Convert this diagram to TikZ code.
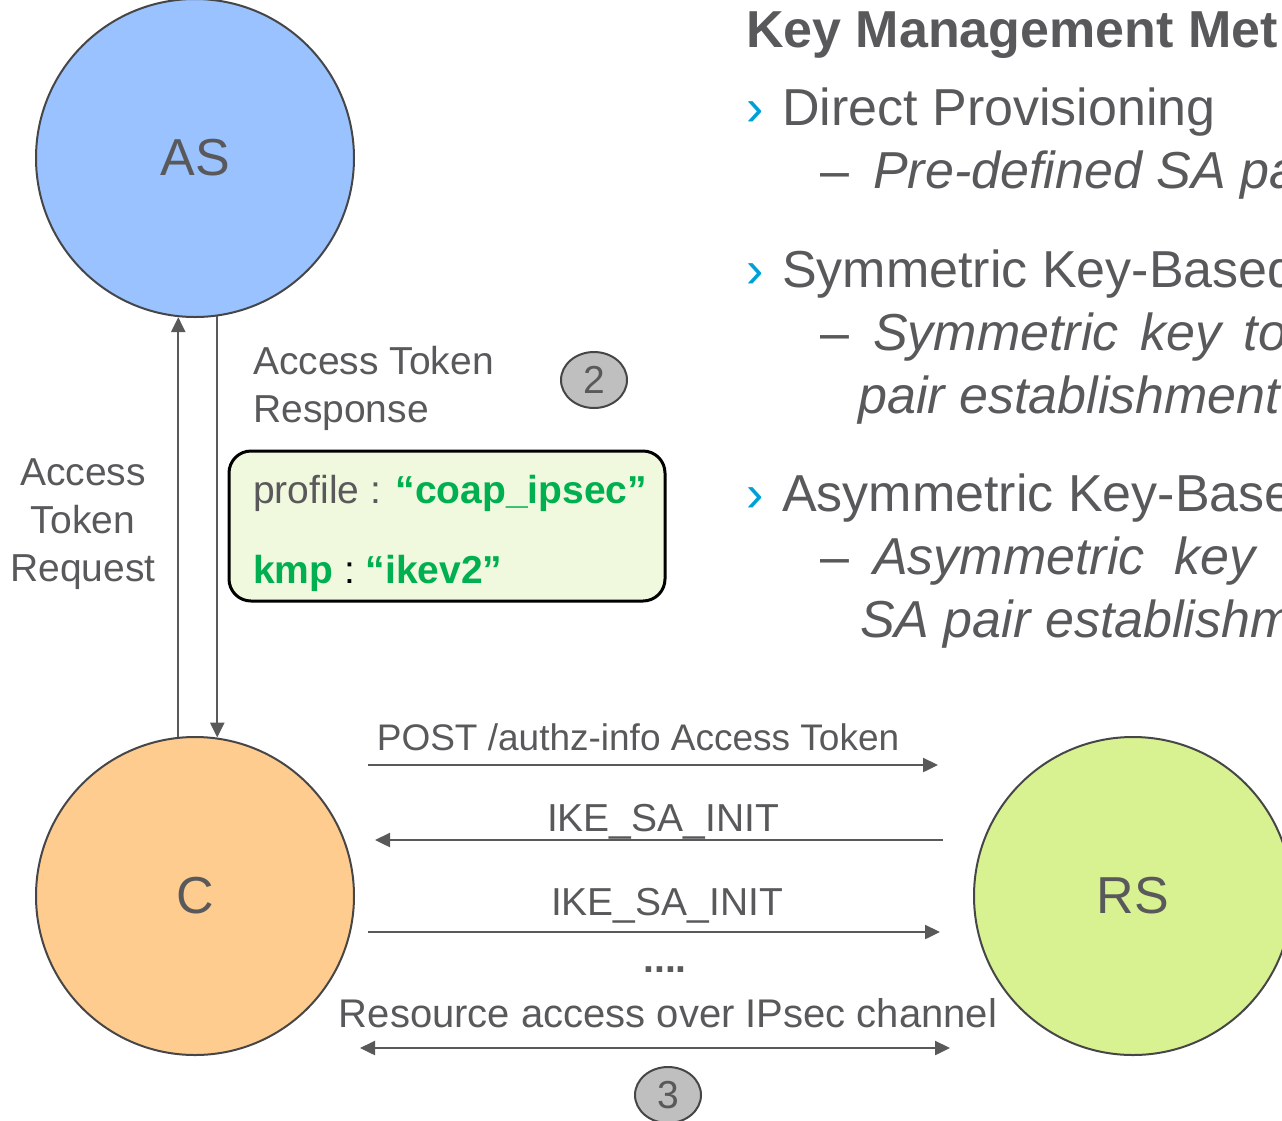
\documentclass[tikz,border=0pt]{standalone}
\usepackage{fontspec}
\setmainfont{Liberation Sans}
\usetikzlibrary{arrows.meta,shapes.geometric}

\definecolor{txtgray}{RGB}{89,89,91}
\definecolor{edgegray}{RGB}{70,70,72}
\definecolor{arrowgray}{RGB}{89,89,89}
\definecolor{asblue}{RGB}{153,194,255}
\definecolor{corange}{RGB}{255,204,143}
\definecolor{rsgreen}{RGB}{217,242,145}
\definecolor{boxgreen}{RGB}{240,248,222}
\definecolor{kmpgreen}{RGB}{0,176,80}
\definecolor{numgray}{RGB}{191,191,191}
\definecolor{bulletcyan}{RGB}{0,160,214}

\begin{document}
\begin{tikzpicture}[x=1pt,y=-1pt,
  party/.style={circle,draw=edgegray,line width=2pt,minimum size=318pt,inner sep=0pt,
    text=txtgray,font=\fontsize{52}{60}\selectfont},
  flow/.style={draw=arrowgray,line width=2.4pt,-{Triangle[length=15pt,width=14pt]}},
  lbl/.style={text=txtgray,inner sep=0pt,font=\fontsize{39}{48}\selectfont},
  stepno/.style={ellipse,draw=edgegray,line width=2pt,fill=numgray,minimum width=66pt,
    minimum height=56pt,inner sep=0pt,text=txtgray,font=\fontsize{39}{48}\selectfont},
  bigtxt/.style={anchor=base west,inner sep=0pt,text=txtgray,font=\fontsize{52}{60}\selectfont},
  subtxt/.style={bigtxt,font=\itshape\fontsize{52}{60}\selectfont},
  chev/.style={anchor=base west,inner sep=0pt,text=bulletcyan,font=\fontsize{52}{60}\selectfont}]
\useasboundingbox (0,0) rectangle (1282,1120);
\clip (0,0) rectangle (1282,1120);

% parties
\node[party,fill=asblue] (AS) at (195,158) {AS};
\node[party,fill=corange] (C) at (195,896) {C};
\node[party,fill=rsgreen] (RS) at (1133,896) {RS};

% token request / response
\draw[flow] (C.96) -- (AS.264);
\draw[flow] (AS.278) -- (C.82);
\node[lbl,align=center] (atReq) at (83,524) {Access\\Token\\Request};
\node[lbl,align=left,anchor=west] (atResp) at (253,388) {Access Token\\Response};
\node[stepno] (n2) at (594,380) {2};

\node[draw=black,line width=3pt,rounded corners=22pt,fill=boxgreen,
  minimum width=436pt,minimum height=150pt] (tok) at (447,526) {};
\node[lbl,anchor=west,align=left] (tokTxt) at (253,533)
  {profile : \textcolor{kmpgreen}{\bfseries “coap\_ipsec”}\\[32pt]
   \textcolor{kmpgreen}{\bfseries kmp}\textcolor{black}{\ :\ }\textcolor{kmpgreen}{\bfseries “ikev2”}};

% C <-> RS
\coordinate (rowPost) at (0,765);
\coordinate (rowIkeA) at (0,840);
\coordinate (rowIkeB) at (0,932);
\coordinate (rowRes) at (0,1048);
\draw[flow,shorten <=13pt,shorten >=35pt] (C.east |- rowPost) -- (RS.west |- rowPost);
\draw[flow,shorten <=30pt,shorten >=20pt] (RS.west |- rowIkeA) -- (C.east |- rowIkeA);
\draw[flow,shorten <=13pt,shorten >=33pt] (C.east |- rowIkeB) -- (RS.west |- rowIkeB);
\draw[flow,{Triangle[length=15pt,width=14pt]}-{Triangle[length=15pt,width=14pt]},
  shorten <=5pt,shorten >=23pt] (C.east |- rowRes) -- (RS.west |- rowRes);
\node[lbl,anchor=base,font=\fontsize{37}{44}\selectfont] (postLbl) at (638,750) {POST /authz-info Access Token};
\node[lbl,anchor=base] (ikeA) at (663,831) {IKE\_SA\_INIT};
\node[lbl,anchor=base] (ikeB) at (667,915) {IKE\_SA\_INIT};
\node[lbl,anchor=base,font=\bfseries\fontsize{39}{48}\selectfont] (dots) at (665,972) {....};
\node[lbl,anchor=base,font=\fontsize{40}{48}\selectfont] (resLbl) at (668,1027) {Resource access over IPsec channel};
\node[stepno] (n3) at (668,1095) {3};

% key management methods
\node[bigtxt,font=\bfseries\fontsize{52}{60}\selectfont] (kmTitle) at (746,47) {Key Management Met};
\node[chev] (b1) at (746,125) {›};
\node[bigtxt] (km1) at (782,125) {Direct Provisioning};
\node[bigtxt] (d1) at (820,188) {–};
\node[subtxt] (km1a) at (873,188) {Pre-defined SA pa};
\node[chev] (b2) at (746,287) {›};
\node[bigtxt] (km2) at (782,287) {Symmetric Key-Based};
\node[bigtxt] (d2) at (820,350) {–};
\node[subtxt] (km2a) at (873,350) {Symmetric\hspace{22pt}key\hspace{22pt}to};
\node[subtxt] (km2b) at (858,413) {pair establishment};
\node[chev] (b3) at (746,511) {›};
\node[bigtxt] (km3) at (782,511) {Asymmetric Key-Base};
\node[bigtxt] (d3) at (820,574) {–};
\node[subtxt] (km3a) at (873,574) {Asymmetric\hspace{30pt}key};
\node[subtxt] (km3b) at (860,637) {SA pair establishm};
\end{tikzpicture}
\end{document}
